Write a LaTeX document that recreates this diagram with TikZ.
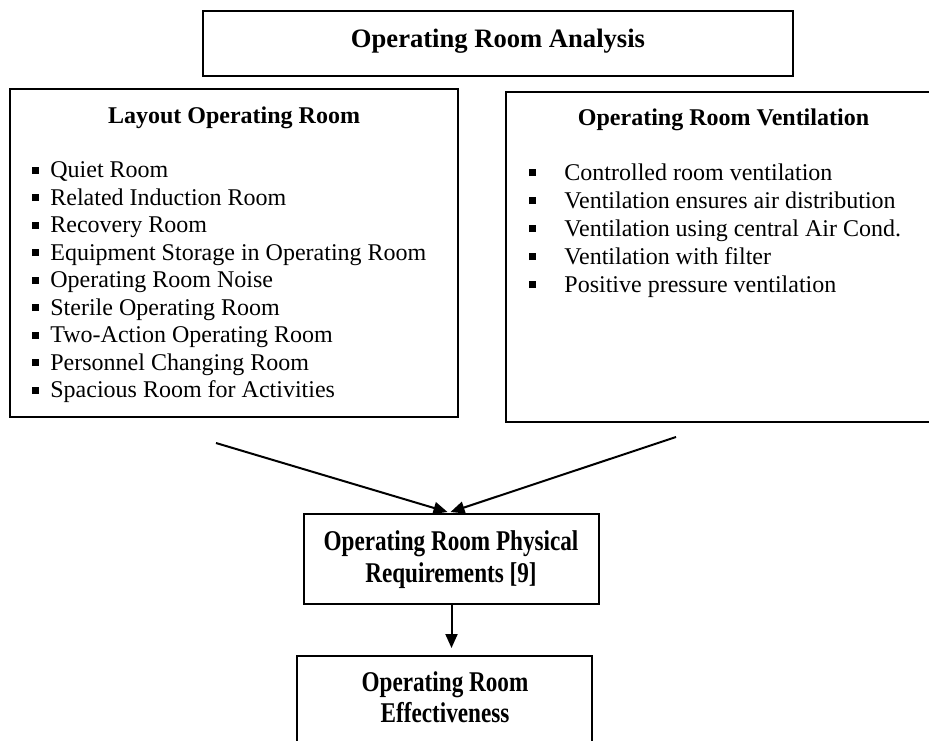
\documentclass[tikz,border=0pt]{standalone}
\usepackage{fontspec}
\setmainfont{Liberation Serif}
\usepackage{graphicx}
\usetikzlibrary{arrows.meta}
\newcommand{\bulL}{\llap{\rule[2pt]{3.3pt}{3.3pt}\hspace{5.7pt}}}
\newcommand{\bulR}{\llap{\rule[2pt]{3.3pt}{3.3pt}\hspace{14.2pt}}}
\begin{document}
\begin{tikzpicture}[x=0.5pt,y=-0.5pt,
  box/.style={draw, line width=1pt, inner sep=0pt, outer sep=0pt},
  body/.style={font=\fontsize{12}{14}\selectfont, anchor=base west, inner sep=0pt},
  head/.style={font=\fontsize{12}{14}\selectfont\bfseries, anchor=base, inner sep=0pt},
  big/.style={font=\fontsize{14.3}{17}\selectfont\bfseries, anchor=base, inner sep=0pt},
  arr/.style={line width=1pt, -{Triangle[length=7pt,width=6pt]}}]
\useasboundingbox (0,0) rectangle (929,740);
% boxes
\node[box, minimum width=295pt, minimum height=32.5pt] (top) at (498,43.5) {};
\node[box, minimum width=224pt, minimum height=164pt] (left) at (234,253) {};
\node[box, minimum width=213pt, minimum height=165pt] (right) at (719,257) {};
\node[box, minimum width=147.5pt, minimum height=45pt] (mid) at (451.5,559) {};
\node[box, minimum width=147.5pt, minimum height=44.5pt] (bot) at (444.5,700.5) {};
% titles
\node[font=\fontsize{13.3}{16}\selectfont\bfseries, anchor=base, inner sep=0pt] (ttl) at (498,47) {Operating Room Analysis};
\node[head] (lt) at (234,123) {Layout Operating Room};
\node[head] (rt) at (723.5,125) {Operating Room Ventilation};
% left items
\foreach \t [count=\i from 0] in {Quiet Room, Related Induction Room, Recovery Room,
  Equipment Storage in Operating Room, Operating Room Noise, Sterile Operating Room,
  Two-Action Operating Room, Personnel Changing Room, Spacious Room for Activities}
  \node[body] (L\i) at (50,{177.5+27.5*\i}) {\bulL\t};
% right items
\foreach \t [count=\i from 0] in {Controlled room ventilation, Ventilation ensures air distribution,
  Ventilation using central Air Cond., Ventilation with filter, Positive pressure ventilation}
  \node[body] (R\i) at (564,{180+28*\i}) {\bulR\t};
% middle and bottom texts
\node[big] (m1) at (451,550) {\scalebox{0.81}[1]{Operating Room Physical}};
\node[big] (m2) at (451,582) {\scalebox{0.81}[1]{Requirements [9]}};
\node[big] (b1) at (445,691) {\scalebox{0.81}[1]{Operating Room}};
\node[big] (b2) at (445,722) {\scalebox{0.81}[1]{Effectiveness}};
% arrows
\coordinate (a1) at (216,443);
\coordinate (a2) at (676,437);
\draw[arr] (a1) -- ([shift={(-4,-2)}]mid.north);
\draw[arr] (a2) -- ([shift={(-1,-2)}]mid.north);
\draw[arr, shorten >=4pt] (mid.south) -- (mid.south |- bot.north);
\end{tikzpicture}
\end{document}
